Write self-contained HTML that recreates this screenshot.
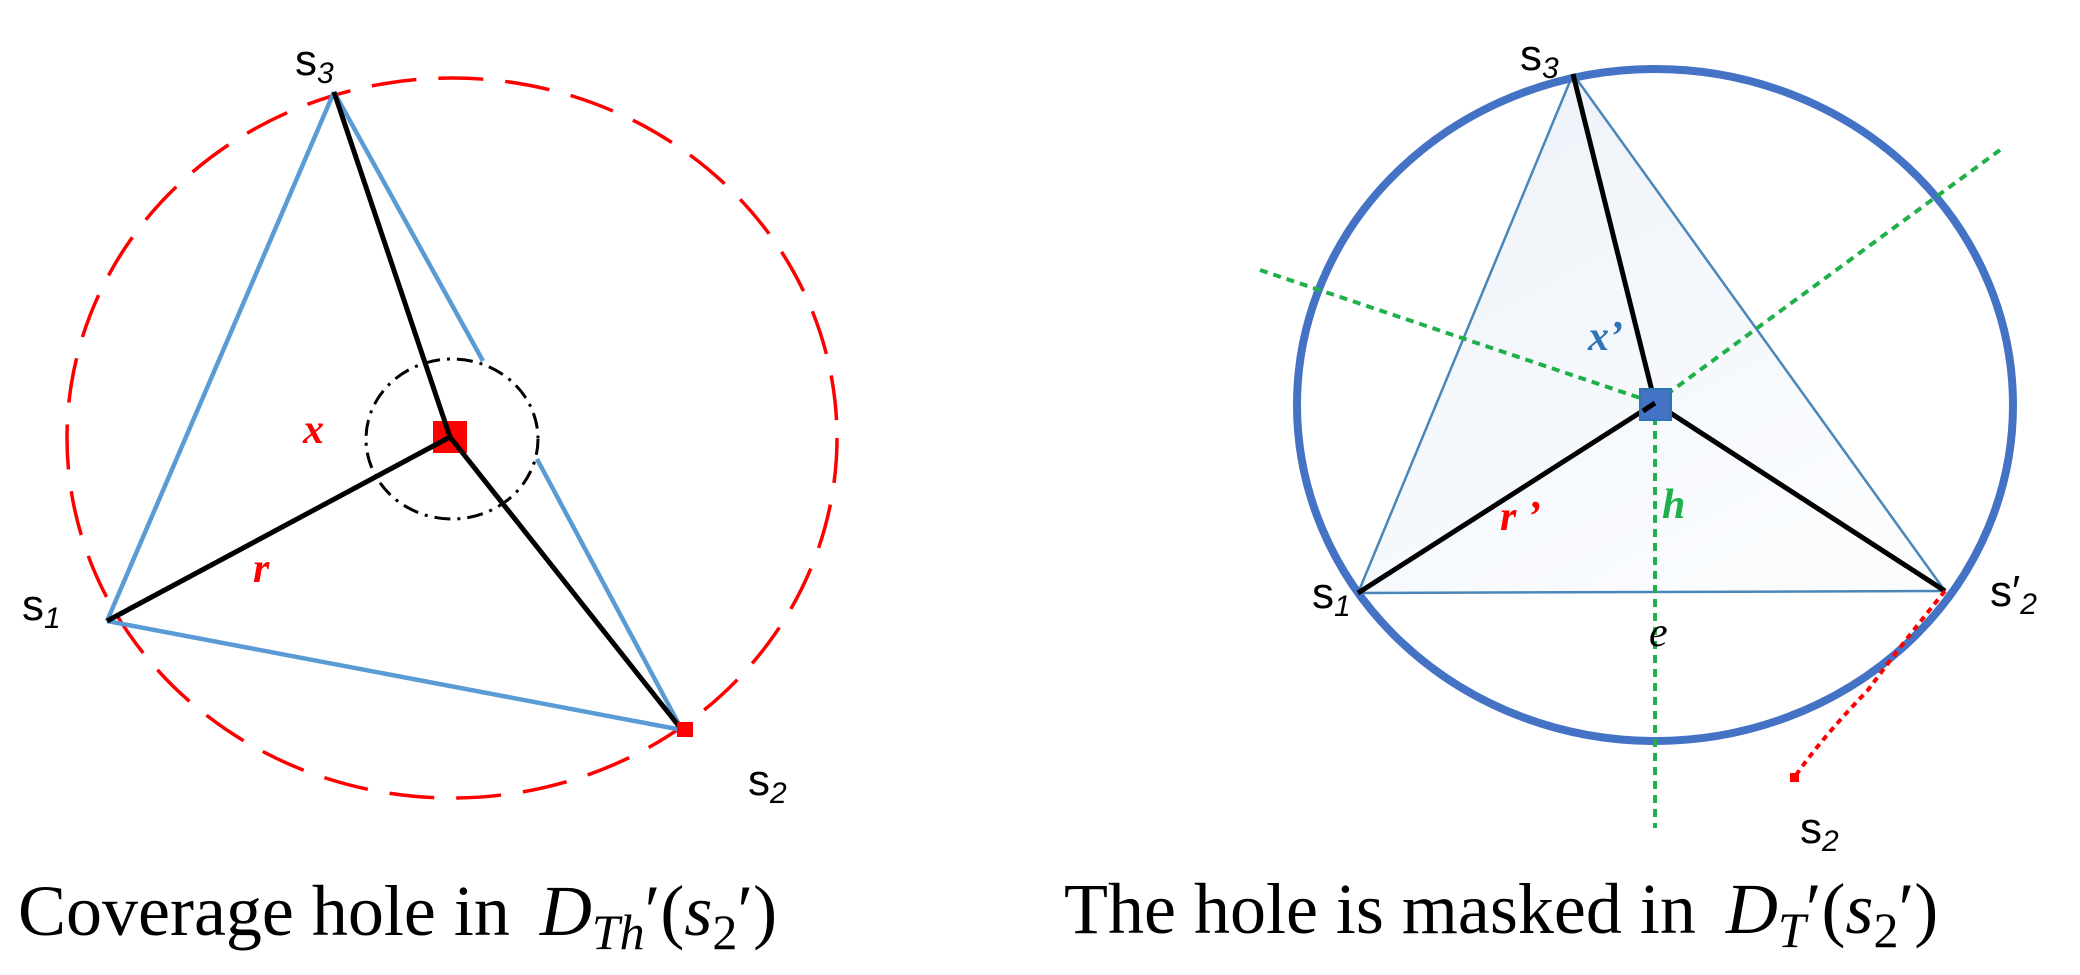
<!DOCTYPE html>
<html><head><meta charset="utf-8"><style>
html,body{margin:0;padding:0;background:#fff;}
svg{display:block;}
.lab{font-family:"Liberation Sans",sans-serif;font-size:44px;fill:#000;}
.sub{font-size:30px;font-style:italic;}
.ttl{font-family:"Liberation Serif",serif;font-size:72px;fill:#000;}
</style></head><body>
<svg width="2080" height="975" viewBox="0 0 2080 975" xmlns="http://www.w3.org/2000/svg">
<defs>
<linearGradient id="g" x1="0" y1="0" x2="0.6" y2="1">
<stop offset="0" stop-color="#edf2f9"/>
<stop offset="1" stop-color="#fafcfe"/>
</linearGradient>
</defs>
<!-- LEFT PANEL -->
<ellipse cx="452" cy="438" rx="385" ry="360" fill="none" stroke="#ff0000" stroke-width="3.5" stroke-dasharray="45,22"/>
<line x1="334" y1="92" x2="107" y2="621" stroke="#5b9bd5" stroke-width="4.5"/>
<line x1="107" y1="621" x2="682" y2="730" stroke="#5b9bd5" stroke-width="4.5"/>
<line x1="334" y1="92" x2="483" y2="361" stroke="#5b9bd5" stroke-width="4.5"/>
<line x1="537" y1="459" x2="682" y2="730" stroke="#5b9bd5" stroke-width="4.5"/>
<ellipse cx="452" cy="439" rx="86" ry="80" fill="none" stroke="#000" stroke-width="3" stroke-dasharray="16,7,3,7"/>
<rect x="433" y="421" width="34" height="32" fill="#ff0000"/>
<line x1="334" y1="92" x2="450" y2="437" stroke="#000" stroke-width="5"/>
<line x1="107" y1="621" x2="450" y2="437" stroke="#000" stroke-width="5"/>
<line x1="450" y1="437" x2="682" y2="730" stroke="#000" stroke-width="5"/>
<rect x="677" y="722" width="16" height="15" fill="#ff0000"/>
<text class="lab" x="295" y="75">s<tspan class="sub" dy="8">3</tspan></text>
<text class="lab" x="22" y="620">s<tspan class="sub" dy="8">1</tspan></text>
<text class="lab" x="748" y="795">s<tspan class="sub" dy="8">2</tspan></text>
<text x="303" y="443" font-family="Liberation Serif,serif" font-style="italic" font-weight="bold" font-size="42" fill="#ff0000">x</text>
<text x="253" y="582" font-family="Liberation Serif,serif" font-style="italic" font-weight="bold" font-size="42" fill="#ff0000">r</text>
<text class="ttl" x="18" y="935">Coverage hole in <tspan font-style="italic" dx="12">D</tspan><tspan font-style="italic" font-size="50" dy="14">Th</tspan><tspan dy="-14">′(</tspan><tspan font-style="italic">s</tspan><tspan font-size="50" dy="14">2</tspan><tspan dy="-14">′)</tspan></text>

<!-- RIGHT PANEL -->
<polygon points="1358,593 1573,74 1945,591" fill="url(#g)"/>
<line x1="1573" y1="74" x2="1358" y2="593" stroke="#4a86b8" stroke-width="2.5"/>
<line x1="1573" y1="74" x2="1945" y2="591" stroke="#4a86b8" stroke-width="2.5"/>
<line x1="1358" y1="593" x2="1945" y2="591" stroke="#4a86b8" stroke-width="2.5"/>
<ellipse cx="1655" cy="405" rx="358" ry="336" fill="none" stroke="#4472c4" stroke-width="8"/>
<line x1="1260" y1="270" x2="1655" y2="403" stroke="#1fb04a" stroke-width="4" stroke-dasharray="8,6"/>
<line x1="1655" y1="403" x2="2000" y2="150" stroke="#1fb04a" stroke-width="4" stroke-dasharray="8,6"/>
<line x1="1655" y1="403" x2="1655" y2="828" stroke="#1fb04a" stroke-width="4" stroke-dasharray="8,6"/>
<line x1="1573" y1="74" x2="1655" y2="403" stroke="#000" stroke-width="5"/>
<line x1="1358" y1="593" x2="1655" y2="403" stroke="#000" stroke-width="5"/>
<line x1="1655" y1="403" x2="1945" y2="591" stroke="#000" stroke-width="5"/>
<rect x="1640" y="389" width="31" height="31" fill="#4472c4" stroke="#2e75b6" stroke-width="2"/>
<line x1="1655" y1="403" x2="1643" y2="411" stroke="#000" stroke-width="5"/>
<path d="M1945,591 Q1905,640 1868,690 Q1820,740 1794,778" fill="none" stroke="#ff0000" stroke-width="4" stroke-dasharray="6,5"/>
<rect x="1790" y="773" width="9" height="9" fill="#ff0000"/>
<text class="lab" x="1520" y="70">s<tspan class="sub" dy="8">3</tspan></text>
<text class="lab" x="1312" y="608">s<tspan class="sub" dy="8">1</tspan></text>
<text class="lab" x="1990" y="606">s′<tspan class="sub" dy="8">2</tspan></text>
<text class="lab" x="1800" y="843">s<tspan class="sub" dy="8">2</tspan></text>
<text x="1588" y="350" font-family="Liberation Serif,serif" font-style="italic" font-weight="bold" font-size="42" fill="#2e75b6">x’</text>
<text x="1662" y="518" font-family="Liberation Serif,serif" font-style="italic" font-weight="bold" font-size="42" fill="#1fb04a">h</text>
<text x="1500" y="530" font-family="Liberation Serif,serif" font-style="italic" font-weight="bold" font-size="42" fill="#ff0000">r ’</text>
<text x="1649" y="646" font-family="Liberation Serif,serif" font-style="italic" font-size="42" fill="#000">e</text>
<text class="ttl" x="1064" y="933">The hole is masked in <tspan font-style="italic" dx="12">D</tspan><tspan font-style="italic" font-size="50" dy="14">T</tspan><tspan dy="-14">′(</tspan><tspan font-style="italic">s</tspan><tspan font-size="50" dy="14">2</tspan><tspan dy="-14">′)</tspan></text>
</svg>
</body></html>
